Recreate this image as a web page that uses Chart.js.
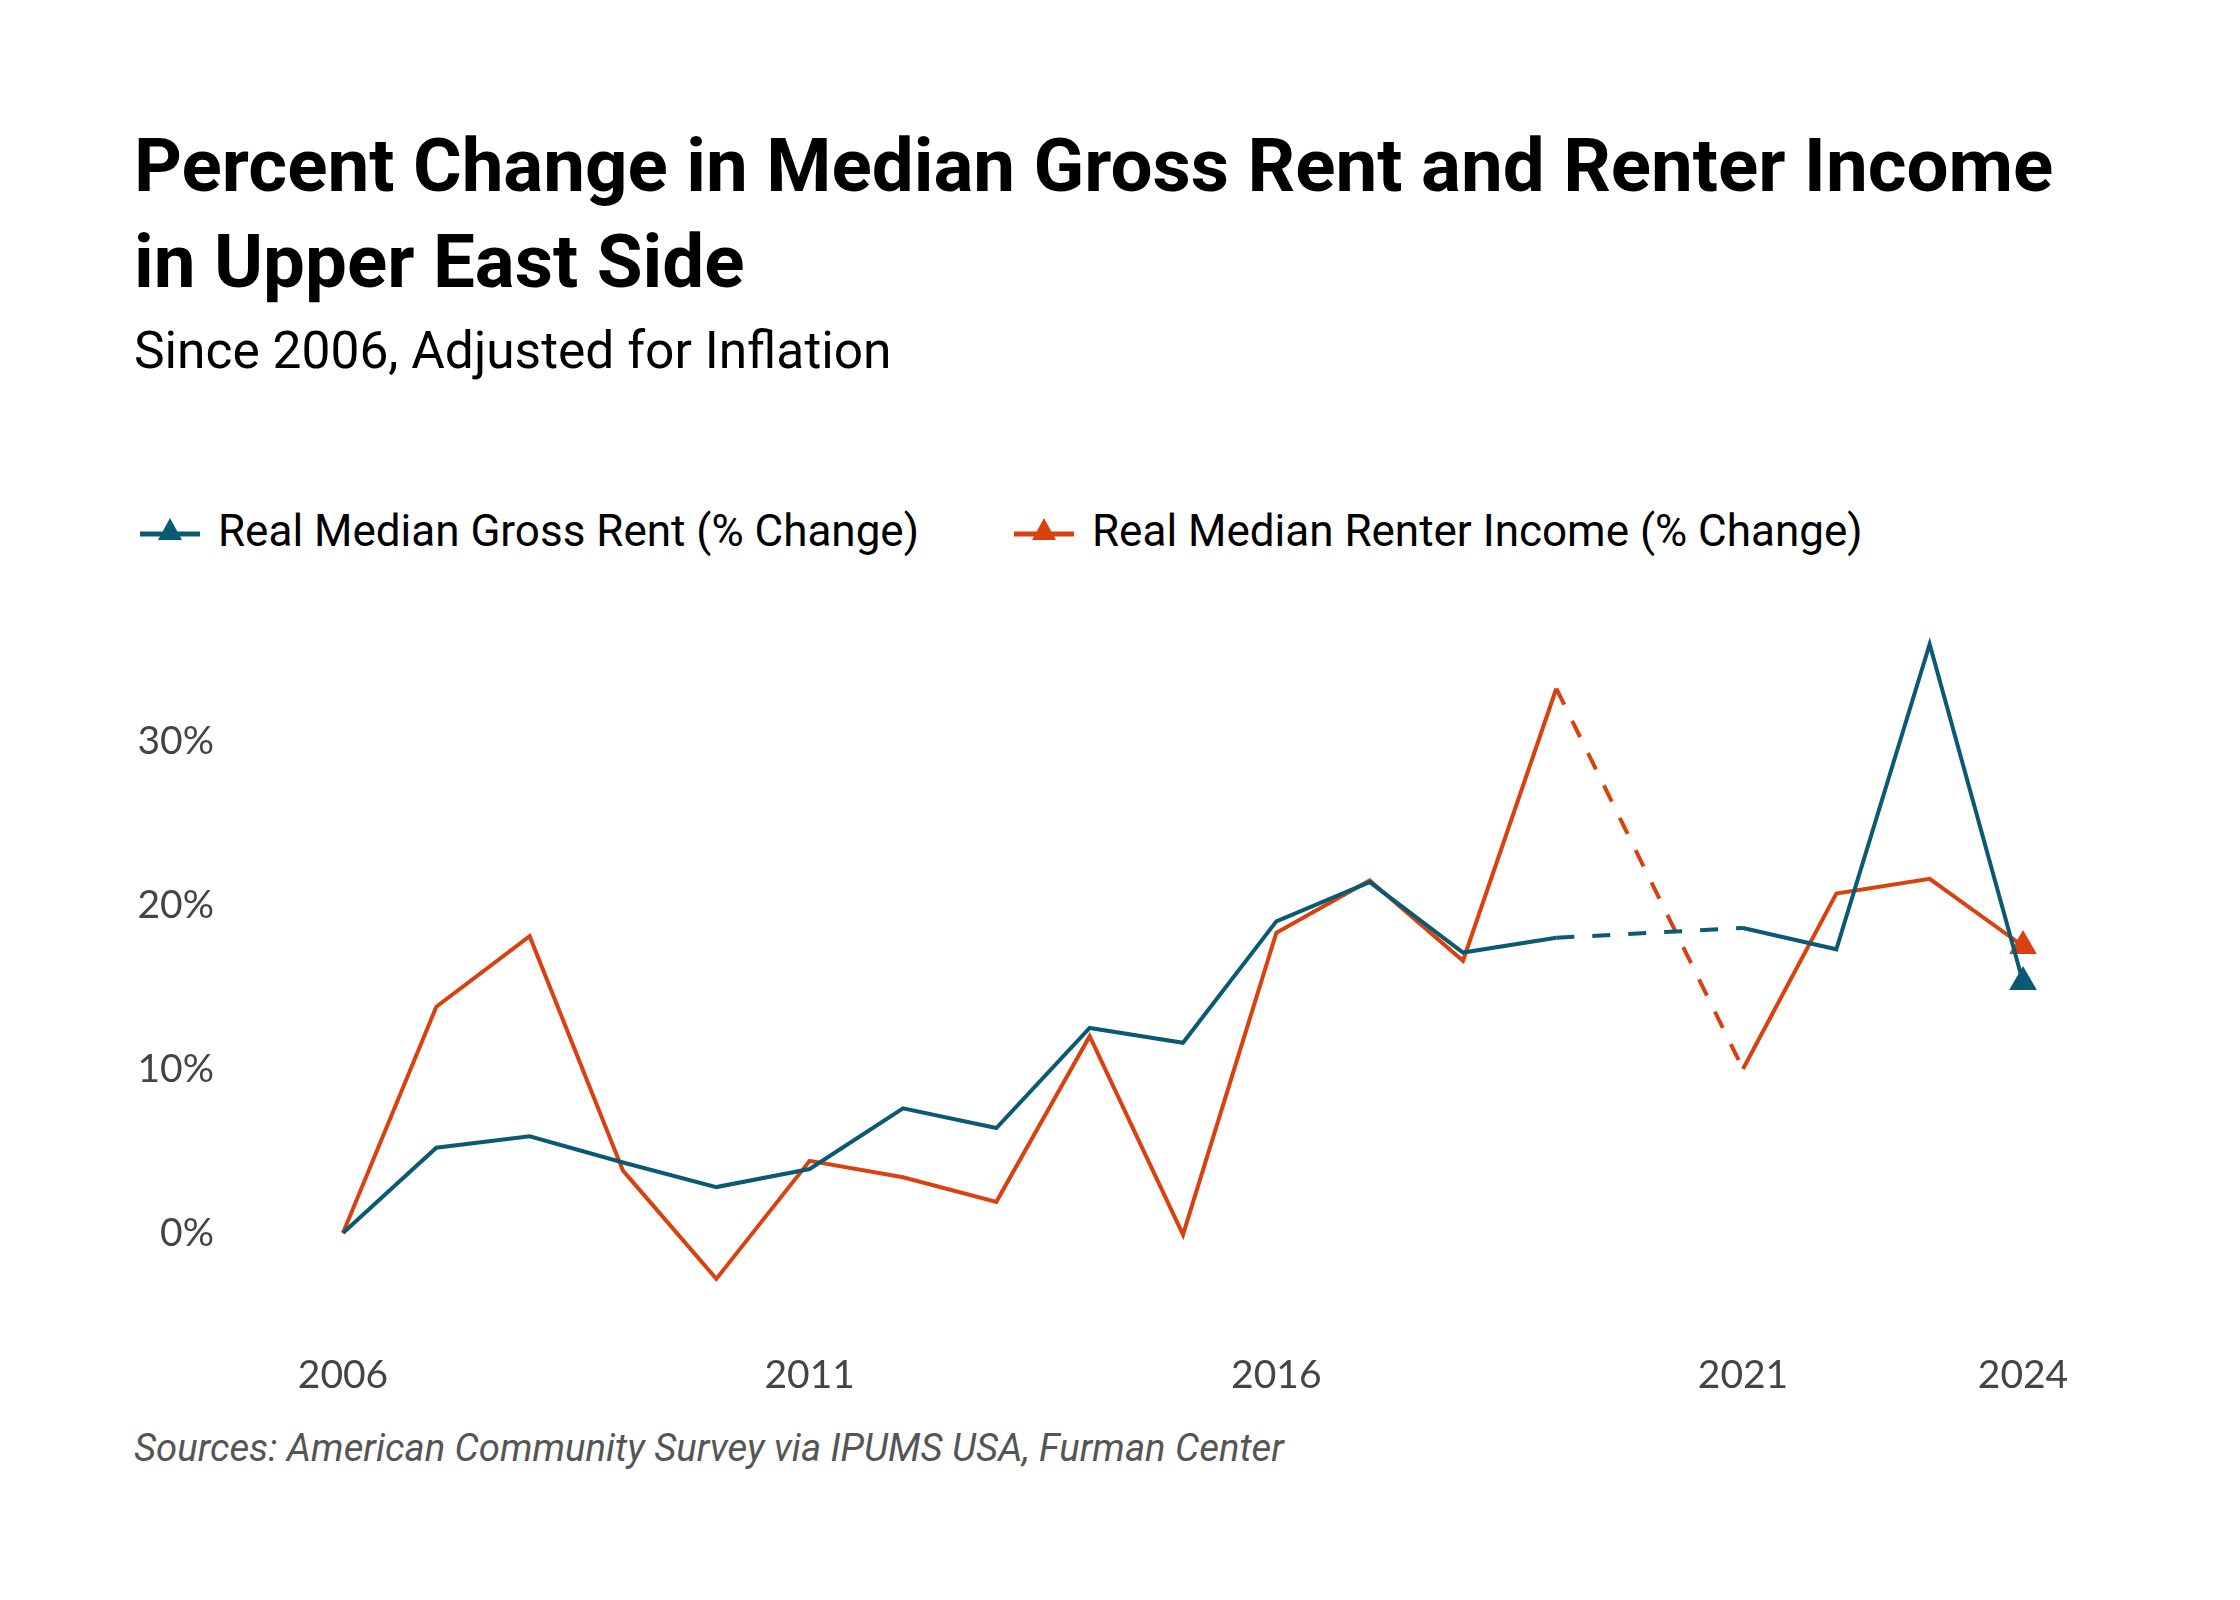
<!DOCTYPE html>
<html>
<head>
<meta charset="utf-8">
<script src="https://cdn.jsdelivr.net/npm/chart.js@4"></script>
<style>
  body { margin: 0; background: #fff; width: 2240px; height: 1600px; position: relative; overflow: hidden; }
  .txt { position: absolute; left: 134px; white-space: nowrap; color: #000; }
  #title { top: 118px; font: 700 74.5px Roboto, sans-serif; line-height: 96px; }
  #subtitle { top: 320px; font: 400 51.5px Roboto, sans-serif; }
  #legend { top: 505px; left: 140px; font: 400 44px Roboto, sans-serif; display: flex; align-items: center; }
  .item { display: flex; align-items: center; margin-right: 95px; }
  .item svg { margin-right: 18px; }
  #source { top: 1425px; font: italic 400 38.3px Roboto, sans-serif; color: #555; }
  #wrap { position: absolute; left: 0; top: 560px; width: 2240px; height: 900px; }
</style>
</head>
<body>
<div class="txt" id="title">Percent Change in Median Gross Rent and Renter Income<br>in Upper East Side</div>
<div class="txt" id="subtitle">Since 2006, Adjusted for Inflation</div>
<div class="txt" id="legend"></div>
<div class="txt" id="source">Sources: American Community Survey via IPUMS USA, Furman Center</div>
<div id="wrap"><canvas id="chart" width="2240" height="900"></canvas></div>
<script>
// years (2020 has no data)
var years = [2006, 2007, 2008, 2009, 2010, 2011, 2012, 2013, 2014, 2015, 2016, 2017, 2018, 2019, 2020, 2021, 2022, 2023, 2024];
var rentChange = [0, 5.2, 5.9, 4.3, 2.8, 3.9, 7.6, 6.4, 12.5, 11.6, 19.0, 21.4, 17.1, 18.0, null, 18.6, 17.3, 35.9, 15.3];
var incomeChange = [0, 13.8, 18.1, 3.8, -2.8, 4.4, 3.4, 1.9, 12.0, -0.1, 18.3, 21.5, 16.6, 33.2, null, 10.0, 20.7, 21.6, 17.5];
var xTicks = [2006, 2011, 2016, 2021, 2024];
var yTicks = [0, 10, 20, 30];

var seriesNames = ['Real Median Gross Rent (% Change)', 'Real Median Renter Income (% Change)'];
var colors = ['#0b5a74', '#d9410f'];

// html legend
var legend = document.getElementById('legend');
seriesNames.forEach(function (name, i) {
    var el = document.createElement('div');
    el.className = 'item';
    el.innerHTML = '<svg width="60" height="30"><line x1="0" y1="18" x2="60" y2="18" stroke="' + colors[i] +
        '" stroke-width="5"/><polygon points="30,2 42,24 18,24" fill="' + colors[i] + '"/></svg>' + name;
    legend.appendChild(el);
});

function toPoints(vals) {
    return years.map(function (yr, i) { return { x: yr, y: vals[i] }; });
}
var last = years.length - 1;
var gapDash = function (ctx) { return ctx.p0.skip || ctx.p1.skip ? [18, 18] : undefined; };

function makeSet(label, vals, color) {
    return {
        label: label,
        data: toPoints(vals),
        borderColor: color,
        backgroundColor: color,
        borderWidth: 4,
        tension: 0,
        spanGaps: true,
        segment: { borderDash: gapDash },
        pointStyle: 'triangle',
        pointRadius: function (ctx) { return ctx.dataIndex === last ? 16 : 0; },
        pointHoverRadius: function (ctx) { return ctx.dataIndex === last ? 16 : 0; },
        pointBorderWidth: 0,
        clip: false
    };
}

var ctx = document.getElementById('chart').getContext('2d');
var chart = new Chart(ctx, {
    type: 'line',
    data: {
        datasets: [
            makeSet(seriesNames[0], rentChange, colors[0]),
            makeSet(seriesNames[1], incomeChange, colors[1])
        ]
    },
    options: {
        responsive: false,
        animation: false,
        devicePixelRatio: 1,
        layout: { padding: { top: 49.8, right: 217, bottom: 0, left: 0 } },
        plugins: { legend: { display: false }, tooltip: { enabled: false } },
        scales: {
            x: {
                type: 'linear',
                min: 2006,
                max: 2024,
                grid: { display: false, drawTicks: false },
                border: { display: false },
                afterBuildTicks: function (scale) { scale.ticks = xTicks.map(function (v) { return { value: v }; }); },
                afterFit: function (scale) {
                    scale.height = 128.6;
                    scale.paddingLeft = 0;
                    scale.paddingRight = 0;
                },
                ticks: {
                    padding: 21,
                    maxRotation: 0,
                    autoSkip: false,
                    color: '#444',
                    font: { family: 'Lato', size: 39 },
                    callback: function (v) { return String(v); }
                }
            },
            y: {
                min: -6,
                max: 38,
                grid: { display: false, drawTicks: false },
                border: { display: false },
                afterBuildTicks: function (scale) { scale.ticks = yTicks.map(function (v) { return { value: v }; }); },
                afterFit: function (scale) {
                    // keep label padding from eating vertical space
                    scale.width = 343;
                    scale.paddingTop = 0;
                    scale.paddingBottom = 0;
                },
                ticks: {
                    padding: 129,
                    color: '#444',
                    font: { family: 'Lato', size: 39 },
                    callback: function (v) { return v + '%'; }
                }
            }
        }
    }
});
</script>
</body>
</html>
